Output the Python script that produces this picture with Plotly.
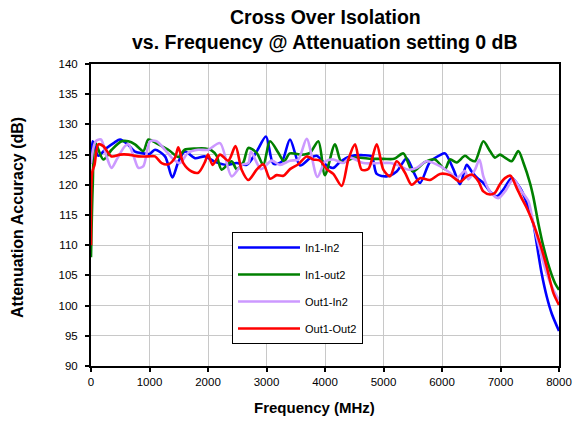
import plotly.graph_objects as go

# ---- data ----
freq_in1_in2 = [0, 30, 125, 268, 400, 496, 638, 752, 895, 1000, 1094, 1265, 1390, 1493, 1607, 1778, 1949,
                2120, 2319, 2490, 2661, 2832, 2991, 3117, 3259, 3402, 3573, 3744, 3858, 4028, 4142, 4256,
                4427, 4655, 4798, 4884, 5054, 5225, 5396, 5510, 5624, 5795, 5966, 6051, 6194, 6308, 6422,
                6507, 6593, 6707, 6820, 6934, 7048, 7191, 7333, 7450, 7561, 7618, 7704, 7790, 7875, 8000]
in1_in2 = [123.5, 127.2, 124.8, 126.1, 127.0, 127.5, 126.6, 125.5, 125.2, 125.1, 125.8, 124.7, 121.2, 123.8,
           125.5, 124.4, 124.7, 123.8, 123.3, 123.6, 123.3, 125.5, 128.0, 123.5, 123.8, 127.5, 123.2, 124.4,
           124.8, 123.2, 122.8, 123.8, 124.7, 124.9, 124.7, 121.8, 121.4, 122.2, 124.4, 122.2, 120.3, 123.8,
           124.9, 125.2, 122.6, 120.1, 123.3, 122.2, 121.2, 120.3, 118.9, 118.1, 119.2, 121.1, 119.5, 117.0,
           113.6, 110.3, 105.3, 101.5, 98.7, 95.8]

freq_in1_out2 = [0, 30, 70, 210, 353, 524, 638, 752, 894, 980, 1100, 1208, 1350, 1493, 1600, 1800, 1950,
                 2060, 2148, 2233, 2404, 2490, 2604, 2690, 2832, 2945, 3060, 3202, 3300, 3400, 3601, 3744,
                 3886, 3999, 4170, 4285, 4500, 4800, 5000, 5180, 5340, 5500, 5700, 5880, 6050, 6137, 6251,
                 6393, 6479, 6564, 6707, 6820, 6906, 6991, 7077, 7191, 7305, 7390, 7504, 7561, 7647, 7733,
                 7846, 7932, 8000]
in1_out2 = [108.0, 120.0, 127.0, 124.2, 125.8, 127.2, 127.2, 126.7, 125.6, 127.5, 127.0, 126.4, 125.6, 124.6,
            125.8, 126.0, 126.0, 125.7, 124.8, 122.5, 123.9, 122.6, 123.7, 126.1, 125.3, 123.3, 127.2, 125.3,
            123.9, 125.2, 125.0, 125.3, 127.2, 121.6, 126.7, 123.7, 124.5, 124.3, 124.3, 124.3, 125.2, 122.2,
            123.7, 124.2, 122.6, 124.2, 123.7, 124.8, 124.2, 123.9, 127.2, 125.6, 124.5, 125.0, 124.5, 123.9,
            125.6, 123.7, 120.3, 118.0, 113.6, 109.8, 105.9, 103.7, 102.6]

freq_out1_in2 = [0, 80, 170, 265, 350, 440, 580, 640, 730, 810, 895, 1010, 1120, 1265, 1410, 1520, 1660,
                 1835, 2005, 2205, 2404, 2575, 2690, 2735, 2906, 3088, 3230, 3400, 3544, 3687, 3870, 4000,
                 4142, 4313, 4427, 4655, 4940, 5111, 5282, 5425, 5567, 5738, 5966, 6136, 6251, 6393, 6450,
                 6564, 6640, 6707, 6820, 6963, 7077, 7219, 7362, 7476, 7561, 7675, 7790, 7903, 8000]
out1_in2 = [123.5, 127.2, 127.5, 124.7, 122.8, 124.2, 126.4, 126.7, 124.7, 122.8, 123.1, 127.2, 127.2, 125.8,
            124.2, 123.6, 125.3, 125.8, 125.8, 126.9, 121.4, 123.3, 123.6, 125.5, 122.6, 124.0, 123.3, 124.0,
            124.2, 127.6, 121.3, 123.8, 124.2, 123.6, 124.5, 123.6, 123.6, 123.6, 123.1, 122.5, 122.8, 123.9,
            123.1, 122.0, 121.1, 122.3, 120.9, 122.5, 124.2, 121.4, 118.9, 117.8, 118.9, 120.9, 118.9, 117.3,
            113.6, 109.2, 105.3, 102.6, 100.9]

freq_out1_out2 = [0, 20, 60, 125, 210, 350, 495, 638, 810, 980, 1094, 1208, 1322, 1436, 1493, 1578, 1721,
                  1835, 1949, 2000, 2080, 2205, 2347, 2470, 2575, 2690, 2832, 2945, 3060, 3173, 3290, 3402,
                  3544, 3687, 3800, 3915, 4028, 4142, 4285, 4400, 4513, 4627, 4740, 4884, 4997, 5111, 5225,
                  5368, 5482, 5624, 5795, 5966, 6136, 6308, 6422, 6507, 6621, 6707, 6820, 6906, 6991, 7077,
                  7170, 7276, 7350, 7447, 7561, 7675, 7790, 7903, 8000]
out1_out2 = [110.0, 122.0, 123.3, 126.7, 126.4, 124.7, 125.0, 125.0, 124.7, 124.7, 124.7, 123.6, 123.4, 124.5,
             126.2, 123.6, 122.2, 122.0, 123.8, 125.0, 123.3, 125.0, 124.0, 126.4, 122.5, 120.8, 122.5, 123.4,
             121.0, 121.6, 121.5, 122.6, 123.4, 124.7, 124.2, 124.0, 122.6, 121.8, 119.8, 124.2, 126.7, 122.5,
             122.6, 126.7, 122.5, 121.4, 123.9, 122.0, 120.0, 121.1, 120.8, 121.8, 121.6, 120.5, 121.4, 121.7,
             120.6, 118.9, 118.4, 118.7, 120.1, 121.1, 121.5, 119.5, 118.0, 116.2, 113.6, 110.3, 106.4, 102.1,
             100.1]

series_names = ["In1-In2", "In1-out2", "Out1-In2", "Out1-Out2"]
series_colors = ["#0000FF", "#008000", "#CC99FF", "#FF0000"]
x_ticks = [0, 1000, 2000, 3000, 4000, 5000, 6000, 7000, 8000]
y_ticks = [90, 95, 100, 105, 110, 115, 120, 125, 130, 135, 140]
title_lines = ["Cross Over Isolation", "vs. Frequency @ Attenuation setting 0 dB"]

FONT = "Arial, Liberation Sans, sans-serif"

fig = go.Figure()
all_x = [freq_in1_in2, freq_in1_out2, freq_out1_in2, freq_out1_out2]
all_y = [in1_in2, in1_out2, out1_in2, out1_out2]
for i, (xs, ys) in enumerate(zip(all_x, all_y)):
    fig.add_trace(go.Scatter(
        x=xs, y=ys, mode="lines", name=series_names[i],
        line=dict(color=series_colors[i], width=2.6, shape="spline", smoothing=0.8),
        legendgroup=series_names[i],
    ))

fig.update_layout(
    width=574, height=445,
    margin=dict(l=91, r=15, t=64, b=79, autoexpand=False),
    paper_bgcolor="white", plot_bgcolor="white",
    font=dict(family=FONT, color="black", size=11),
    showlegend=True,
    legend=dict(
        x=(232 - 91) / 468, y=(366 - 232) / 302, xanchor="left", yanchor="top",
        bgcolor="white", bordercolor="black", borderwidth=1,
        font=dict(family=FONT, size=11, color="black"),
        tracegroupgap=8, itemwidth=62, entrywidth=135, entrywidthmode="pixels",
    ),
)

fig.update_xaxes(
    range=[0, 8000], tickvals=x_ticks, ticktext=[str(v) for v in x_ticks],
    showline=True, linecolor="black", linewidth=2, mirror=True,
    ticks="outside", ticklen=4, tickcolor="black", tickwidth=2,
    showgrid=True, gridcolor="#C8C8C8", gridwidth=1, zeroline=False,
    tickfont=dict(family=FONT, size=11.5, color="black"),
)
fig.update_yaxes(
    range=[90, 140], tickvals=y_ticks, ticktext=[str(v) for v in y_ticks],
    showline=True, linecolor="black", linewidth=2, mirror=True,
    ticks="outside", ticklen=4, tickcolor="black", tickwidth=2, ticklabelstandoff=5,
    showgrid=True, gridcolor="#C8C8C8", gridwidth=1, zeroline=False,
    tickfont=dict(family=FONT, size=11.5, color="black"),
)

# title (two lines)
for line, ypix in zip(title_lines, [17, 42]):
    fig.add_annotation(
        text="<b>" + line + "</b>", xref="paper", yref="paper",
        x=(325 - 91) / 468, y=(366 - ypix) / 302, xanchor="center", yanchor="middle",
        showarrow=False, font=dict(family=FONT, size=19.5, color="black"),
    )

fig.add_annotation(
    text="<b>Frequency (MHz)</b>", xref="paper", yref="paper",
    x=(314 - 91) / 468, y=(366 - 407) / 302, xanchor="center", yanchor="middle",
    showarrow=False, font=dict(family=FONT, size=15, color="black"),
)
fig.add_annotation(
    text="<b>Attenuation Accuracy (dB)</b>", xref="paper", yref="paper",
    x=(18 - 91) / 468, y=(366 - 218) / 302, xanchor="center", yanchor="middle",
    textangle=-90, showarrow=False, font=dict(family=FONT, size=16, color="black"),
)

fig.write_html("out.html", config={"displayModeBar": False},
               post_script="document.body.style.margin='0';")
